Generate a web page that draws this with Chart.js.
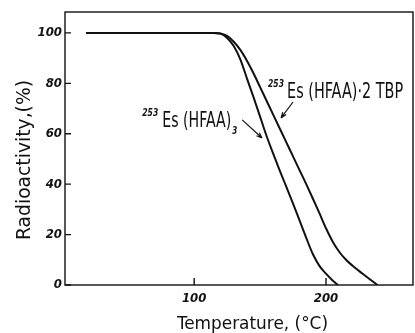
<!DOCTYPE html>
<html>
<head>
<meta charset="utf-8">
<script src="https://cdn.jsdelivr.net/npm/chart.js@4/dist/chart.umd.min.js"></script>
<style>
  html, body { margin: 0; padding: 0; background: #fff; }
  #wrap { width: 415px; height: 333px; }
</style>
</head>
<body>
<div id="wrap"><canvas id="chart" width="415" height="333"></canvas></div>
<script>
// temperature (°C) vs radioactivity (%)
const tempHFAA3 = [18, 110, 115, 120, 125, 130, 135, 140, 145, 150, 155, 160, 165, 170, 175, 180, 185, 190, 195, 200, 205, 209];
const valHFAA3  = [100, 100, 100, 99.7, 98, 94.8, 89.5, 82, 74.5, 66.8, 59, 52, 45.3, 38.8, 32.3, 25.5, 18.7, 12.3, 7.6, 4.5, 1.8, 0];

const tempTBP = [18, 115, 120, 125, 130, 135, 140, 145, 150, 155, 160, 165, 170, 175, 180, 185, 190, 195, 200, 205, 210, 215, 220, 225, 230, 235, 239];
const valTBP  = [100, 100, 99.8, 98.8, 96.5, 93.3, 89, 84, 78.5, 73, 67.5, 62, 56.5, 51, 45.5, 40, 34.3, 28.5, 22.5, 17.3, 13.2, 10.1, 7.7, 5.6, 3.6, 1.6, 0];

const xTicks = [100, 200];
const yTicks = [0, 20, 40, 60, 80, 100];

function pts(xs, ys) {
  return xs.map((x, i) => ({ x: x, y: ys[i] }));
}

const tickFont = { family: "'DejaVu Sans Condensed', sans-serif", size: 13, style: "italic", weight: "bold" };
const handFont = "'DejaVu Sans Condensed', 'Liberation Sans', sans-serif";

// text squeezed to a given width (hand lettering is very narrow)
function fitText(ctx, text, x, y, font, width, rot) {
  ctx.save();
  ctx.font = font;
  const w = ctx.measureText(text).width;
  ctx.translate(x, y);
  if (rot) ctx.rotate(rot);
  ctx.scale(width / w, 1);
  ctx.fillText(text, 0, 0);
  ctx.restore();
}

function arrow(ctx, x1, y1, x2, y2) {
  const ang = Math.atan2(y2 - y1, x2 - x1);
  ctx.beginPath();
  ctx.moveTo(x1, y1);
  ctx.lineTo(x2, y2);
  ctx.moveTo(x2, y2);
  ctx.lineTo(x2 - 6 * Math.cos(ang - 0.35), y2 - 6 * Math.sin(ang - 0.35));
  ctx.moveTo(x2, y2);
  ctx.lineTo(x2 - 6 * Math.cos(ang + 0.35), y2 - 6 * Math.sin(ang + 0.35));
  ctx.stroke();
}

// frame, inward ticks, axis titles and curve labels
const decor = {
  id: "decor",
  afterDraw(chart) {
    const ctx = chart.ctx;
    const a = chart.chartArea;
    const xs = chart.scales.x, ys = chart.scales.y;
    const px = t => xs.getPixelForValue(t), py = v => ys.getPixelForValue(v);
    ctx.save();
    ctx.strokeStyle = "#111";
    ctx.fillStyle = "#111";
    ctx.lineWidth = 1.4;
    ctx.strokeRect(a.left, a.top, a.right - a.left, a.bottom - a.top);
    ctx.beginPath();
    yTicks.forEach(v => {
      ctx.moveTo(a.left, py(v));
      ctx.lineTo(a.left + 6, py(v));
    });
    xTicks.forEach(v => {
      ctx.moveTo(px(v), a.bottom);
      ctx.lineTo(px(v), a.bottom - 7);
    });
    ctx.stroke();

    ctx.textBaseline = "middle";
    ctx.textAlign = "left";
    fitText(ctx, "Temperature, (°C)", 177, 324, "18px " + handFont, 151);
    fitText(ctx, "Radioactivity,(%)", 25, 240, "20px " + handFont, 160, -Math.PI / 2);

    ctx.textBaseline = "alphabetic";
    // 253Es(HFAA)·2TBP
    fitText(ctx, "253", px(156), py(74.2) - 11, "bold italic 10px " + handFont, 16);
    fitText(ctx, "Es (HFAA)\u00b72 TBP", px(170.5), py(74.2), "21px " + handFont, 116);
    // 253Es(HFAA)3
    fitText(ctx, "253", px(60.6), py(62.7) - 11, "bold italic 10px " + handFont, 16);
    fitText(ctx, "Es (HFAA)", px(75.8), py(62.7), "21px " + handFont, 69);
    fitText(ctx, "3", px(75.8) + 70, py(62.7) + 7, "bold italic 10px " + handFont, 5);

    ctx.lineWidth = 1.2;
    arrow(ctx, px(136.4), py(65.5), px(151.5), py(58.3));
    arrow(ctx, px(175), py(72.6), px(165.9), py(66.3));
    ctx.restore();
  }
};

new Chart(document.getElementById("chart"), {
  type: "line",
  data: {
    datasets: [
      {
        label: "253Es(HFAA)3",
        data: pts(tempHFAA3, valHFAA3),
        borderColor: "#111",
        borderWidth: 2,
        pointRadius: 0,
        fill: false,
        cubicInterpolationMode: "monotone",
      },
      {
        label: "253Es(HFAA)·2TBP",
        data: pts(tempTBP, valTBP),
        borderColor: "#111",
        borderWidth: 2,
        pointRadius: 0,
        fill: false,
        cubicInterpolationMode: "monotone",
      },
    ],
  },
  options: {
    responsive: false,
    animation: false,
    layout: { padding: { top: 12, right: 2, left: 0, bottom: 0 } },
    plugins: { legend: { display: false }, tooltip: { enabled: false } },
    scales: {
      x: {
        type: "linear",
        min: 2,
        max: 266,
        afterBuildTicks: s => { s.ticks = xTicks.map(v => ({ value: v })); },
        afterFit: s => { s.height = 48; },
        grid: { display: false, drawTicks: false },
        border: { display: false },
        ticks: { color: "#111", font: tickFont, padding: 6 },
      },
      y: {
        min: 0,
        max: 108.3,
        afterBuildTicks: s => { s.ticks = yTicks.map(v => ({ value: v })); },
        afterFit: s => { s.width = 65; },
        grid: { display: false, drawTicks: false },
        border: { display: false },
        ticks: { color: "#111", font: tickFont, padding: 3 },
      },
    },
  },
  plugins: [decor],
});
</script>
</body>
</html>
